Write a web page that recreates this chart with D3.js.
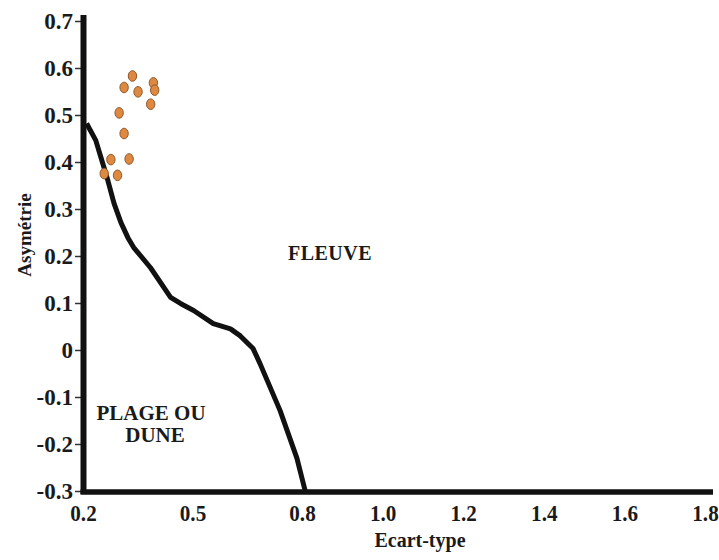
<!DOCTYPE html>
<html>
<head>
<meta charset="utf-8">
<script src="https://cdn.jsdelivr.net/npm/d3@7"></script>
<style>
  html, body { margin: 0; padding: 0; background: #fff; }
  svg { display: block; }
  text { font-family: "Liberation Serif", "Times New Roman", serif; font-weight: bold; fill: #1a1a1a; }
</style>
</head>
<body>
<svg id="chart" width="719" height="560"></svg>
<script>
// ---- data ----
const xTicks = [0.2, 0.5, 0.8, 1.0, 1.2, 1.4, 1.6, 1.8];
const xTickLabels = ["0.2", "0.5", "0.8", "1.0", "1.2", "1.4", "1.6", "1.8"];
const yTicks = [-0.3, -0.2, -0.1, 0, 0.1, 0.2, 0.3, 0.4, 0.5, 0.6, 0.7];
const yTickLabels = ["-0.3", "-0.2", "-0.1", "0", "0.1", "0.2", "0.3", "0.4", "0.5", "0.6", "0.7"];

// boundary curve (Ecart-type, Asymétrie)
const curveX = [0.21, 0.235, 0.249, 0.268, 0.285, 0.304, 0.323, 0.339, 0.385, 0.44, 0.467, 0.503, 0.557, 0.604, 0.631, 0.666, 0.685, 0.74, 0.786, 0.808];
const curveY = [0.482, 0.446, 0.41, 0.361, 0.312, 0.271, 0.239, 0.218, 0.175, 0.112, 0.099, 0.084, 0.056, 0.045, 0.030, 0.003, -0.029, -0.129, -0.23, -0.3];

// samples
const sampleX = [0.3355, 0.3126, 0.3508, 0.3928, 0.3964, 0.3854, 0.299, 0.3126, 0.2764, 0.3263, 0.2581, 0.2946];
const sampleY = [0.583, 0.5586, 0.5493, 0.5684, 0.5529, 0.523, 0.5045, 0.4606, 0.4051, 0.4064, 0.3753, 0.3716];

const xTitle = "Ecart-type";
const yTitle = "Asymétrie";
const zoneRiver = "FLEUVE";
const zoneBeach = ["PLAGE OU", "DUNE"];

// ---- scales ----
const svg = d3.select("#chart");
const x = d3.scaleLinear().domain([0.2, 0.8, 1.8]).range([83, 302, 705]);
const y = d3.scaleLinear().domain([-0.3, 0.7]).range([491, 21]);

// y axis ticks
const yAxis = d3.axisLeft(y).tickValues(yTicks).tickSize(6).tickPadding(2)
  .tickFormat((d, i) => yTickLabels[i]);
const gy = svg.append("g").attr("transform", "translate(81,0)").call(yAxis);
gy.select(".domain").remove();
gy.selectAll(".tick line").attr("stroke", "#333").attr("stroke-width", 1.5);
gy.selectAll(".tick text").style("font-family", "'Liberation Serif', serif")
  .style("font-weight", "bold").style("font-size", "23px").attr("fill", "#1a1a1a");

// x axis ticks
const xAxis = d3.axisBottom(x).tickValues(xTicks).tickSize(0).tickPadding(14)
  .tickFormat((d, i) => xTickLabels[i]);
const gx = svg.append("g").attr("transform", "translate(0,491)").call(xAxis);
gx.select(".domain").remove();
gx.selectAll(".tick text").style("font-family", "'Liberation Serif', serif")
  .style("font-weight", "bold").style("font-size", "23px").attr("fill", "#1a1a1a")
  .attr("transform", "scale(0.92,1)");

// curve
const line = d3.line().x(d => x(d[0])).y(d => y(d[1])).curve(d3.curveLinear);
svg.append("path")
  .datum(curveX.map((v, i) => [v, curveY[i]]))
  .attr("d", line)
  .attr("fill", "none").attr("stroke", "#111").attr("stroke-width", 5)
  .attr("stroke-linejoin", "round").attr("stroke-linecap", "butt");

// axis lines (thick)
svg.append("line")
  .attr("x1", x(0.2) + 0.5).attr("x2", x(0.2) + 0.5)
  .attr("y1", y(0.7) - 6).attr("y2", y(-0.3) + 3)
  .attr("stroke", "#111").attr("stroke-width", 6);
svg.append("line")
  .attr("x1", x(0.2) - 2.5).attr("x2", x(1.8) + 8)
  .attr("y1", y(-0.3) + 1).attr("y2", y(-0.3) + 1)
  .attr("stroke", "#111").attr("stroke-width", 5.5);

// samples
svg.append("g").selectAll("ellipse")
  .data(sampleX.map((v, i) => [v, sampleY[i]]))
  .join("ellipse")
  .attr("cx", d => x(d[0])).attr("cy", d => y(d[1]))
  .attr("rx", 4.2).attr("ry", 5.3)
  .attr("fill", "#de8840").attr("stroke", "#8d5a30").attr("stroke-width", 1);

// zone labels
svg.append("text").attr("x", 330).attr("y", 260).attr("text-anchor", "middle")
  .style("font-size", "20px").style("letter-spacing", "0.5px").text(zoneRiver);
svg.append("text").attr("x", 151).attr("y", 420).attr("text-anchor", "middle")
  .style("font-size", "21px").text(zoneBeach[0]);
svg.append("text").attr("x", 155).attr("y", 442).attr("text-anchor", "middle")
  .style("font-size", "21px").text(zoneBeach[1]);

// axis titles
svg.append("text").attr("x", 420).attr("y", 547).attr("text-anchor", "middle")
  .style("font-size", "20px").text(xTitle);
svg.append("text").attr("transform", "translate(31,235) rotate(-90)")
  .attr("text-anchor", "middle").style("font-size", "19px").text(yTitle);
</script>
</body>
</html>
